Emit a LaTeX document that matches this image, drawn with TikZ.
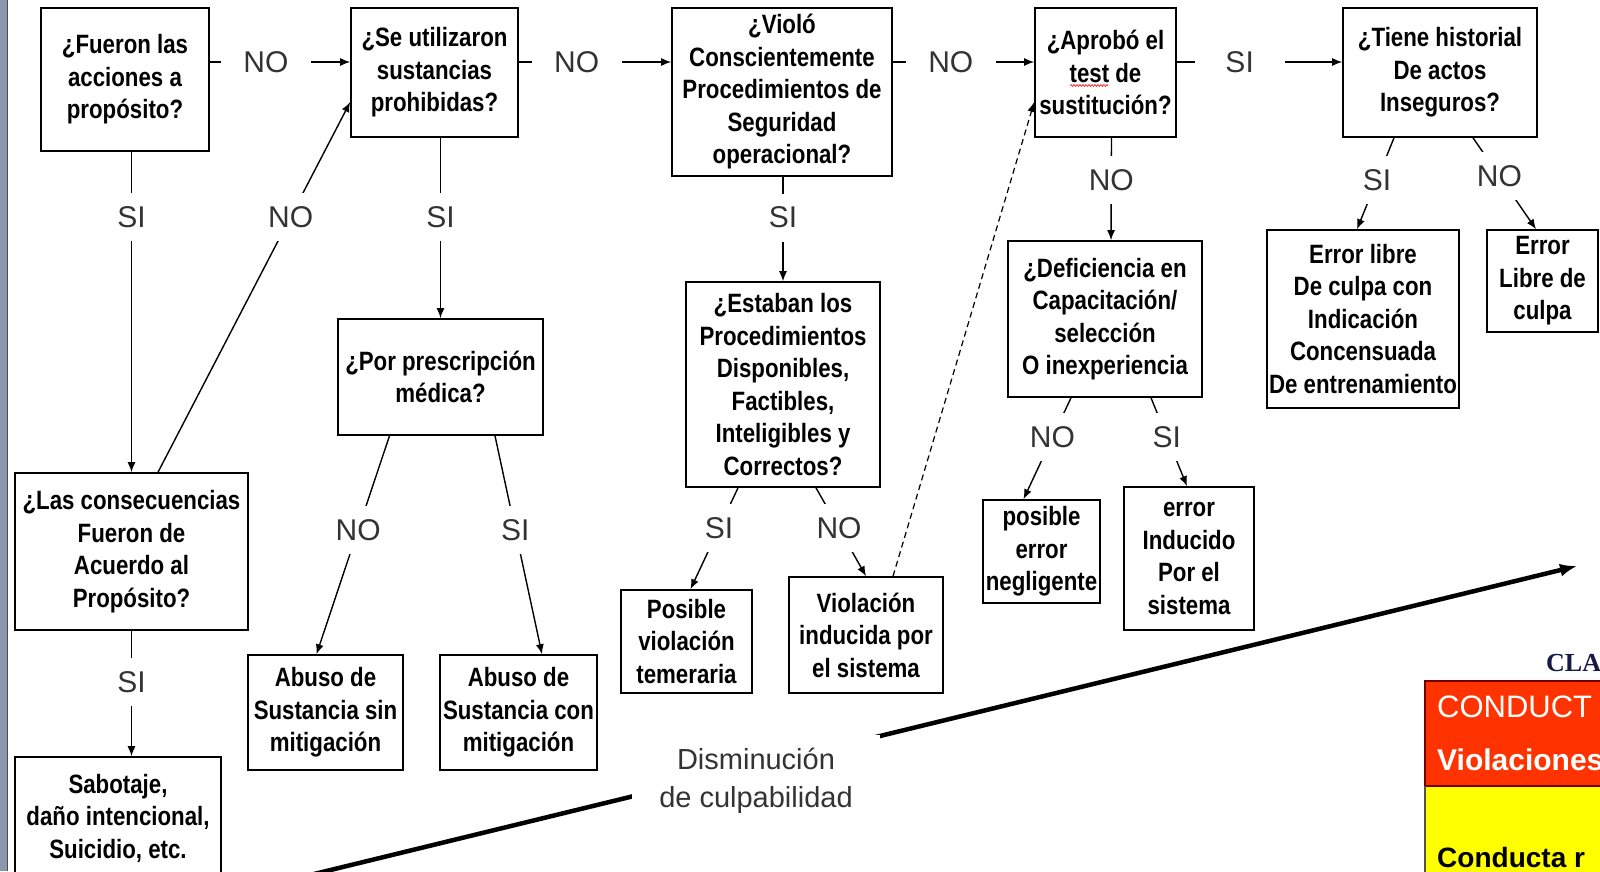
\documentclass[tikz,border=0pt]{standalone}
\usepackage{fontspec}
\setmainfont{Liberation Sans}
\newfontfamily\boxfont{Liberation Sans}[FakeStretch=0.84]
\newfontfamily\clafont{Liberation Serif}
\usepackage{tikz}
\usetikzlibrary{arrows.meta, decorations.pathmorphing}
\definecolor{sidebar}{RGB}{140,150,172}
\definecolor{conductred}{RGB}{255,51,0}
\definecolor{conductyellow}{RGB}{255,255,0}
\definecolor{clanavy}{RGB}{20,25,70}

\tikzset{
    qbox/.style={draw, line width=1.6pt, align=center, inner sep=0pt,
        font=\fontsize{26.5}{32.5}\selectfont\boxfont\bfseries},
    sz/.style 2 args={minimum width=#1pt, minimum height=#2pt},
    lbl/.style={fill=white, inner sep=0pt, minimum width=90pt, minimum height=48pt,
        font=\fontsize{30}{36}\selectfont, text=black!80},
    conn/.style={line width=1.4pt, -{Latex[length=10pt,width=8pt]}},
    culpa/.style={fill=white, inner sep=0pt, align=center, minimum width=247pt,
        minimum height=92pt, font=\fontsize{29}{38}\selectfont, text=black!80}
}

\begin{document}
\begin{tikzpicture}[x=1pt, y=-1pt]

\useasboundingbox (0,0) rectangle (1600,871);
\clip (0,0) rectangle (1600,871);
\fill[white] (0,0) rectangle (1600,871);

% Side bar
\fill[sidebar] (0,0) rectangle (7,871);
\draw[line width=1.5pt, black!70] (7.5,0) -- (7.5,871);

% Top row of questions
\coordinate (row) at (0,62);
\node[qbox, sz={168}{143}] (A) at (125,79.5) {¿Fueron las\\acciones a\\propósito?};
\node[qbox, sz={167}{129}] (B) at (434.5,72.5) {¿Se utilizaron\\sustancias\\prohibidas?};
\node[qbox, sz={220}{168}] (C) at (782,92) {¿Violó\\Conscientemente\\Procedimientos de\\Seguridad\\operacional?};
\node[qbox, sz={141}{129}] (D) at (1105.5,72.5) {¿Aprobó el\\test de\\sustitución?};
\node[qbox, sz={194}{129}] (F) at (1440,72.5) {¿Tiene historial\\De actos\\Inseguros?};

% Second level
\node[qbox, sz={233}{157}] (K) at (131.5,551.5) {¿Las consecuencias\\Fueron de\\Acuerdo al\\Propósito?};
\node[qbox, sz={205}{116}] (G) at (440.5,377) {¿Por prescripción\\médica?};
\node[qbox, sz={194}{205}] (E) at (783,384.5) {¿Estaban los\\Procedimientos\\Disponibles,\\Factibles,\\Inteligibles y\\Correctos?};
\node[qbox, sz={194}{156}] (H) at (1105,319) {¿Deficiencia en\\Capacitación/\\selección\\O inexperiencia};
\node[qbox, sz={192}{178}] (I) at (1363,319) {Error libre\\De culpa con\\Indicación\\Concensuada\\De entrenamiento};
\node[qbox, sz={111}{102}] (J) at (1542.5,281) {Error\\Libre de\\culpa};

% Outcomes
\node[qbox, sz={206}{122}] (L) at (118,818) {Sabotaje,\\daño intencional,\\Suicidio, etc.};
\node[qbox, sz={155}{115}] (M) at (325.5,712.5) {Abuso de\\Sustancia sin\\mitigación};
\node[qbox, sz={157}{115}] (N) at (518.5,712.5) {Abuso de\\Sustancia con\\mitigación};
\node[qbox, sz={131}{103}] (O) at (686.5,641.5) {Posible\\violación\\temeraria};
\node[qbox, sz={154}{116}] (P) at (866,635) {Violación\\inducida por\\el sistema};
\node[qbox, sz={117}{103}] (Q) at (1041.5,551.5) {posible\\error\\negligente};
\node[qbox, sz={130}{143}] (R) at (1189,558.5) {error\\Inducido\\Por el\\sistema};

% Spell-check mark under "test"
\draw[red, line width=0.6pt, decorate, decoration={snake, amplitude=1pt, segment length=3pt}]
    ([xshift=-35.5pt,yshift=-13pt]D.center) -- ([xshift=2.5pt,yshift=-13pt]D.center);

% Connectors
\draw[conn] (A.east |- row) -- node[lbl, pos=0.40] {NO} (B.west |- row);
\draw[conn] (B.east |- row) -- node[lbl, pos=0.38] {NO} (C.west |- row);
\draw[conn] (C.east |- row) -- node[lbl, pos=0.41] {NO} (D.west |- row);
\draw[conn] (D.east |- row) -- node[lbl, pos=0.38] {SI} (F.west |- row);
\draw[conn] (A.south -| K.north) -- node[lbl, pos=0.205] {SI} (K.north);
\draw[conn] ([xshift=26.5pt]K.north) -- node[lbl, pos=0.69] {NO} ([yshift=-29.5pt]B.west);
\draw[conn] (B.south -| G.north) -- node[lbl, pos=0.44] {SI} (G.north);
\draw[conn] (C.south -| E.north) -- node[lbl, pos=0.39] {SI} (E.north);
\draw[conn] ([xshift=6pt]D.south) -- node[lbl, pos=0.41] {NO} ([xshift=6pt]H.north);
\draw[conn] ([xshift=-46pt]F.south) -- node[lbl, pos=0.46] {SI} ([xshift=-6pt]I.north);
\draw[conn] ([xshift=33pt]F.south) -- node[lbl, pos=0.42] {NO} ([xshift=-6.5pt]J.north);
\draw[conn] ([xshift=-51pt]G.south) -- node[lbl, pos=0.43] {NO} ([xshift=-9pt]M.north);
\draw[conn] ([xshift=54.5pt]G.south) -- node[lbl, pos=0.43] {SI} ([xshift=23.5pt]N.north);
\draw[conn] ([xshift=-45pt]E.south) -- node[lbl, pos=0.40] {SI} ([xshift=4pt]O.north);
\draw[conn] ([xshift=33pt]E.south) -- node[lbl, pos=0.46] {NO} (P.north);
\draw[conn] ([xshift=-34pt]H.south) -- node[lbl, pos=0.39] {NO} ([xshift=-18pt]Q.north);
\draw[conn] ([xshift=46pt]H.south) -- node[lbl, pos=0.44] {SI} ([xshift=-2pt]R.north);
\draw[conn] (K.south) -- node[lbl, pos=0.41] {SI} (K.south |- L.north);
\draw[conn, line width=1.2pt, dash pattern=on 6pt off 4pt] ([xshift=27pt]P.north) -- ([yshift=-29.5pt]D.west);

% Culpability arrow
\coordinate (cstart) at (310,875);
\coordinate (cend) at (1577,566);
\draw[line width=4.5pt, -{Latex[length=17pt,width=13pt]}] (cstart) --
    node[culpa, pos=0.352, yshift=-15pt] (dlbl) {Disminución\\de culpabilidad} (cend);

% Classification table (cut off)
\fill[conductred] (1425,681) rectangle (1610,786);
\fill[conductyellow] (1425,786) rectangle (1610,880);
\draw[line width=1.2pt, red!45!black] (1610,681) -- (1425,681) -- (1425,786) -- (1610,786);
\draw[line width=1.2pt, black!60!yellow!60!black] (1425,786) -- (1425,880);
\node[anchor=west, inner sep=0pt, font=\fontsize{26}{30}\selectfont\clafont\bfseries, text=clanavy] (cla) at (1546,663) {CLA};
\node[anchor=west, inner sep=0pt, font=\fontsize{31}{36}\selectfont, text=white] (conduct) at (1437,707) {CONDUCT};
\node[anchor=west, inner sep=0pt, font=\fontsize{30}{36}\selectfont\bfseries, text=white] (viol) at (1437,760) {Violaciones};
\node[anchor=west, inner sep=0pt, font=\fontsize{28}{34}\selectfont\bfseries] (condr) at (1437,857) {Conducta r};

\end{tikzpicture}
\end{document}
